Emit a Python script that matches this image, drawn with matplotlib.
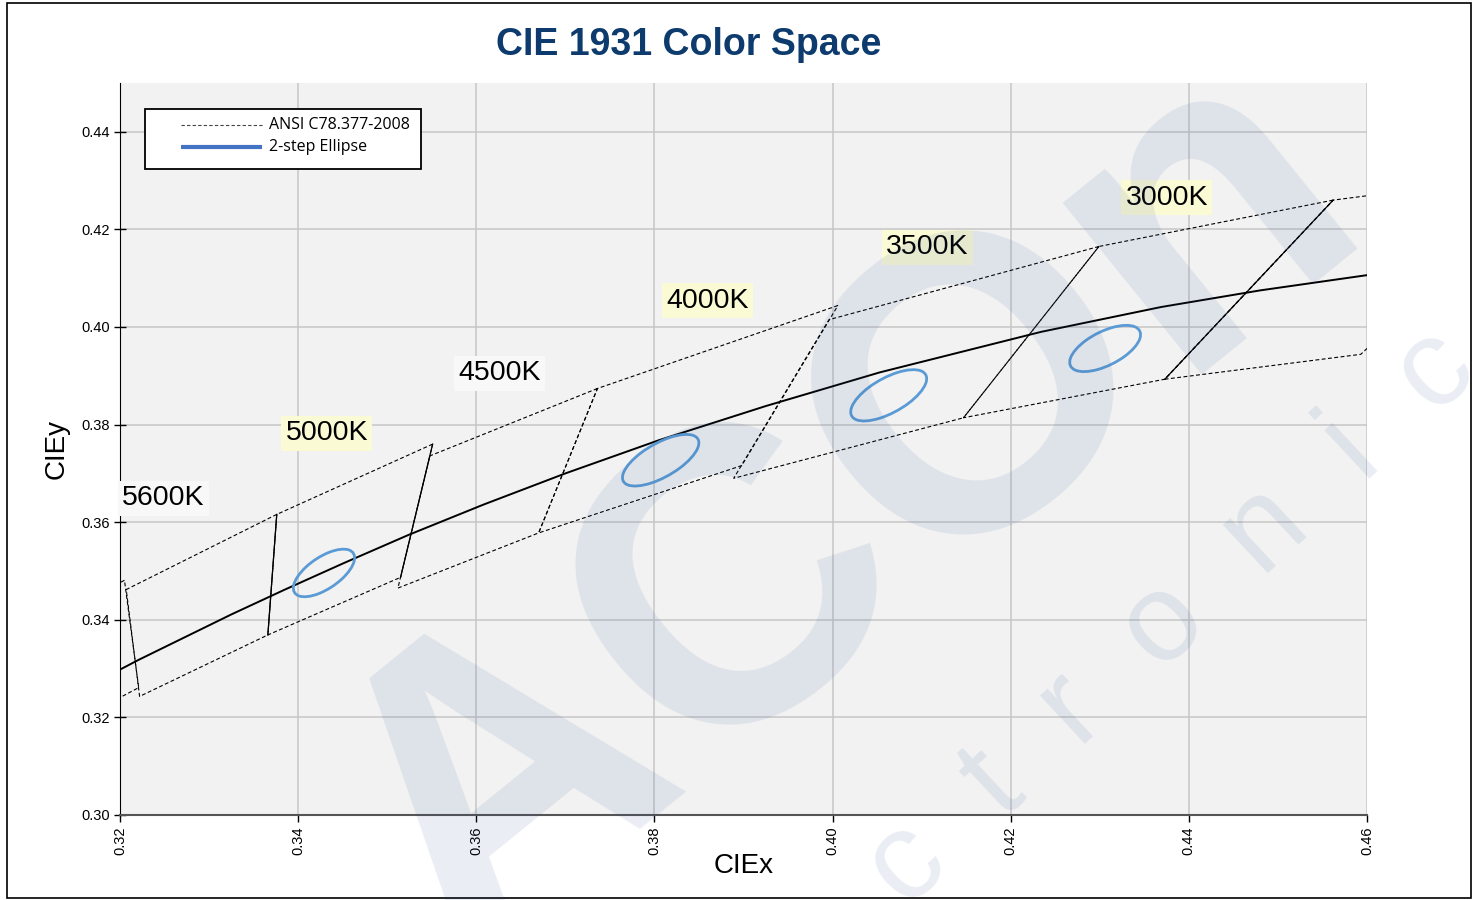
import matplotlib
matplotlib.use('Agg')
import matplotlib.pyplot as plt
from matplotlib.patches import Ellipse, Rectangle

'''
CIE 1931 chromaticity detail: ANSI C78.377-2008 quadrangles,
Planckian locus and 2-step MacAdam ellipses.
'''

############################### DATA ###############################
# Planckian locus (CIE 1931 x, y)
locus_x = [0.3135, 0.3221, 0.3325, 0.3384, 0.3451, 0.3524, 0.3608, 0.3700, 0.3805,
           0.3925, 0.4053, 0.4234, 0.4369, 0.4480, 0.4599, 0.4770]
locus_y = [0.3236, 0.3318, 0.3411, 0.3461, 0.3516, 0.3574, 0.3636, 0.3700, 0.3768,
           0.3838, 0.3907, 0.3990, 0.4041, 0.4075, 0.4106, 0.4137]

# ANSI quadrangles: corners upper-right, upper-left, lower-left, lower-right
quad_cct = [6500, 5700, 5000, 4500, 4000, 3500, 3000, 2700]
quad_x = [[0.3205, 0.3028, 0.3068, 0.3221],
          [0.3376, 0.3207, 0.3222, 0.3366],
          [0.3551, 0.3376, 0.3366, 0.3515],
          [0.3736, 0.3548, 0.3512, 0.3670],
          [0.4006, 0.3736, 0.3670, 0.3898],
          [0.4299, 0.3996, 0.3889, 0.4147],
          [0.4562, 0.4299, 0.4147, 0.4373],
          [0.4813, 0.4562, 0.4373, 0.4593]]
quad_y = [[0.3481, 0.3304, 0.3113, 0.3261],
          [0.3616, 0.3462, 0.3243, 0.3369],
          [0.3760, 0.3616, 0.3369, 0.3487],
          [0.3874, 0.3736, 0.3465, 0.3578],
          [0.4044, 0.3874, 0.3578, 0.3716],
          [0.4165, 0.4015, 0.3690, 0.3814],
          [0.4260, 0.4165, 0.3814, 0.3893],
          [0.4319, 0.4260, 0.3893, 0.3944]]
# quadrangle edges that print as a solid line (cct, corner i, corner j)
solid_edges = [(5000, 1, 2), (5000, 0, 3), (3000, 0, 3)]

# 2-step ellipses
ell_x = [0.3429, 0.3807, 0.4063, 0.4306]
ell_y = [0.3496, 0.3727, 0.3860, 0.3956]
ell_a = [0.00548, 0.00626, 0.00618, 0.00556]
ell_b = [0.00236, 0.00268, 0.00276, 0.00272]
ell_theta = [59.62, 53.72, 54.00, 53.22]

# CCT labels
label_text = ['5600K', '5000K', '4500K', '4000K', '3500K', '3000K']
label_x = [0.3202, 0.3386, 0.3580, 0.3813, 0.4060, 0.4329]
label_y = [0.3649, 0.3782, 0.3905, 0.4054, 0.4163, 0.4265]
label_bg = ['#F8F8F8', '#FAFAD4', '#F8F8F8', '#FAFAD4', '#FAFAD4', '#FAFAD4']

x_ticks = [0.32, 0.34, 0.36, 0.38, 0.40, 0.42, 0.44, 0.46]
y_ticks = [0.30, 0.32, 0.34, 0.36, 0.38, 0.40, 0.42, 0.44]

############################## FIGURE ##############################
plt.rcParams['font.family'] = ['Liberation Sans', 'DejaVu Sans']

fig = plt.figure(figsize=(14.78, 9), dpi=100)
ax = fig.add_axes([120/1478, 1-815/900, 1247/1478, 732/900])
ax.set_facecolor('#F2F2F2')

ax.set_xlim(0.32, 0.46)
ax.set_ylim(0.30, 0.45)
ax.set_xticks(x_ticks)
ax.set_yticks(y_ticks)
ax.set_xticklabels(['%.2f' % v for v in x_ticks], rotation=90)
ax.set_yticklabels(['%.2f' % v for v in y_ticks])
ax.tick_params(labelsize=10.5, length=5, width=1, colors='black')
ax.tick_params(axis='y', direction='inout', length=8)
ax.grid(True, color='#C6C6C6', linewidth=1.1, zorder=0)
ax.set_axisbelow(True)
for side in ['top', 'right']:
    ax.spines[side].set_visible(False)
ax.spines['left'].set_color('black')
ax.spines['bottom'].set_color('#555555')
ax.spines['bottom'].set_linewidth(1.5)

# Quadrangles
for k in range(len(quad_cct)):
    xs = quad_x[k] + [quad_x[k][0]]
    ys = quad_y[k] + [quad_y[k][0]]
    ax.plot(xs, ys, color='black', linewidth=0.8, linestyle=(0, (3.5, 2.2)), zorder=3)
for cct, i, j in solid_edges:
    k = quad_cct.index(cct)
    ax.plot([quad_x[k][i], quad_x[k][j]], [quad_y[k][i], quad_y[k][j]],
            color='black', linewidth=0.9, zorder=3)

# Planckian locus
ax.plot(locus_x, locus_y, color='black', linewidth=1.4, zorder=4)

# Ellipses
for k in range(len(ell_x)):
    e = Ellipse((ell_x[k], ell_y[k]), 2*ell_a[k], 2*ell_b[k], angle=ell_theta[k],
                fill=False, edgecolor='#5B9BD5', linewidth=2.0, zorder=5)
    ax.add_patch(e)

# CCT labels
for k in range(len(label_text)):
    ax.text(label_x[k], label_y[k], label_text[k], fontsize=20.5, ha='left', va='center',
            zorder=6, bbox=dict(boxstyle='square,pad=0.15', fc=label_bg[k], ec='none'))

ax.set_xlabel('CIEx', fontsize=20, labelpad=-2)
ax.set_ylabel('CIEy', fontsize=20, labelpad=8)

# Legend box
ax.add_patch(Rectangle((0.0201, 0.8825), 0.2213, 0.082, transform=ax.transAxes,
                       fill=True, fc='white', ec='black', linewidth=1.3, zorder=7))
ax.plot([0.0489, 0.1139], [0.9426, 0.9426], transform=ax.transAxes, color='#444444',
        linewidth=0.8, linestyle=(0, (3, 2)), zorder=8)
ax.plot([0.0489, 0.1139], [0.9126, 0.9126], transform=ax.transAxes, color='#4472C4',
        linewidth=3, zorder=8, solid_capstyle='butt')
ax.text(0.1195, 0.9426, 'ANSI C78.377-2008', transform=ax.transAxes, fontsize=11.5,
        family='Open Sans', va='center', zorder=8)
ax.text(0.1195, 0.9126, '2-step Ellipse', transform=ax.transAxes, fontsize=11.5,
        family='Open Sans', va='center', zorder=8)

# Title
fig.text(0.466, 0.950, 'CIE 1931 Color Space', fontsize=27, fontweight='bold',
         color='#0D3B6E', ha='center', va='center')

# Watermark
fig.text(0.575, 0.43, 'ACOn', fontsize=300, fontweight='bold', rotation=39,
         color='#2F5597', alpha=0.1, ha='center', va='center', zorder=10)
fig.text(0.700, 0.170, 'e  l  e  c  t  r  o  n  i  c', fontsize=90, rotation=43,
         color='#2F5597', alpha=0.1, ha='center', va='center', zorder=10)

# Outer frame
fig.add_artist(Rectangle((0.005, 0.002), 0.99, 0.995, transform=fig.transFigure,
                         fill=False, ec='black', linewidth=1.2))

fig.savefig('out.png', dpi=100)
